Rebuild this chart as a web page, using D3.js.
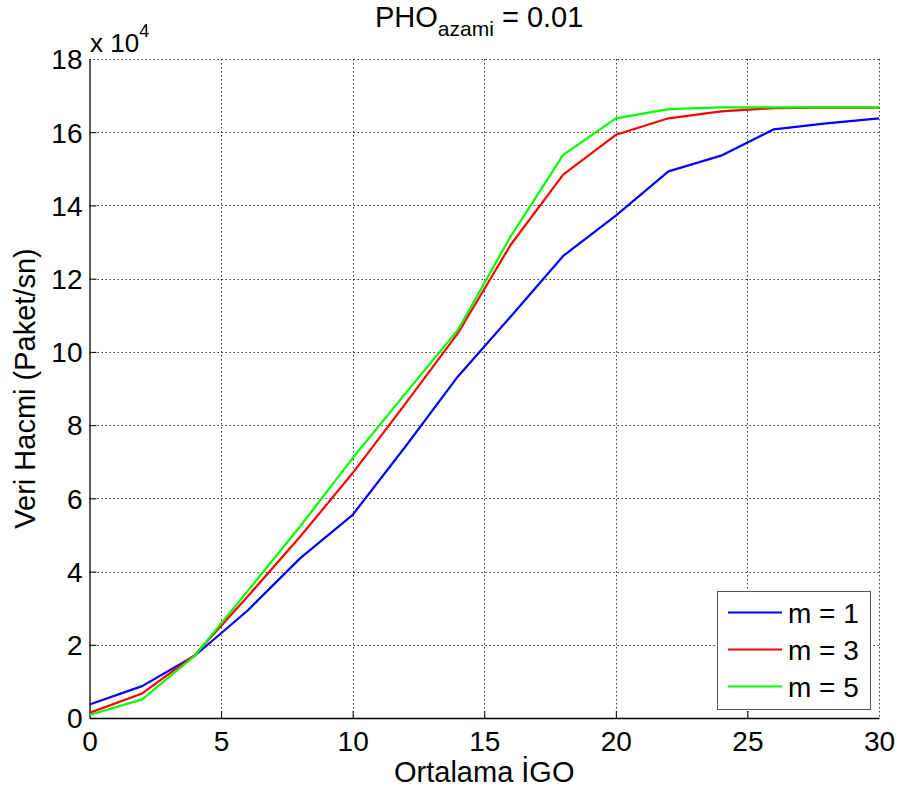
<!DOCTYPE html>
<html>
<head>
<meta charset="utf-8">
<script src="https://cdn.jsdelivr.net/npm/d3@7"></script>
<style>
  body { margin: 0; background: #fff; }
  svg text { font-family: "Liberation Sans", Arial, sans-serif; fill: #000; }
</style>
</head>
<body>
<div class="container"></div>
<script>
const WIDTH = 903;
const HEIGHT = 796;

// values are in units of 10^4 packets/sn
var igo = [0, 2, 4, 6, 8, 10, 12, 14, 16, 18, 20, 22, 24, 26, 28, 30];
var m1 = [0.37, 0.87, 1.70, 2.93, 4.36, 5.55, 7.41, 9.33, 10.96, 12.62, 13.72, 14.93, 15.36, 16.08, 16.24, 16.38];
var m3 = [0.14, 0.67, 1.72, 3.31, 4.95, 6.69, 8.58, 10.51, 12.92, 14.84, 15.93, 16.38, 16.57, 16.66, 16.67, 16.67];
var m5 = [0.08, 0.51, 1.70, 3.46, 5.23, 7.10, 8.86, 10.60, 13.15, 15.38, 16.38, 16.63, 16.68, 16.68, 16.68, 16.68];
var seriesNames = ["m = 1", "m = 3", "m = 5"];
var seriesColors = ["#0000ff", "#ff0000", "#00ff00"];
var xTicks = [0, 5, 10, 15, 20, 25, 30];
var yTicks = [0, 2, 4, 6, 8, 10, 12, 14, 16, 18];

var plotLeft = 89.5, plotRight = 879, plotTop = 59, plotBottom = 718;

var svg = d3.select(".container").append("svg")
    .attr("width", WIDTH)
    .attr("height", HEIGHT);

var x = d3.scaleLinear().domain([0, 30]).range([plotLeft, plotRight]);
var y = d3.scaleLinear().domain([0, 18]).range([plotBottom, plotTop]);

// grid
var grid = svg.append("g").attr("class", "grid");
grid.selectAll("line.vx")
    .data(xTicks.slice(1))
    .enter().append("line")
    .attr("x1", d => Math.round(x(d)) + 0.5)
    .attr("x2", d => Math.round(x(d)) + 0.5)
    .attr("y1", plotTop)
    .attr("y2", plotBottom);
grid.selectAll("line.hy")
    .data(yTicks.slice(1))
    .enter().append("line")
    .attr("x1", plotLeft)
    .attr("x2", plotRight)
    .attr("y1", d => Math.round(y(d)) + 0.5)
    .attr("y2", d => Math.round(y(d)) + 0.5);
grid.selectAll("line")
    .attr("stroke", "#333")
    .attr("stroke-width", 1)
    .attr("stroke-dasharray", "1.5,2.5");

// axes
var xAxis = svg.append("g")
    .attr("transform", "translate(0," + plotBottom + ")")
    .call(d3.axisBottom(x).tickValues(xTicks).tickSize(-7).tickPadding(14).tickSizeOuter(0));
var yAxis = svg.append("g")
    .attr("transform", "translate(" + plotLeft + ",0)")
    .call(d3.axisLeft(y).tickValues(yTicks).tickSize(-7).tickPadding(8).tickSizeOuter(0));

xAxis.select(".domain").attr("stroke", "#000").attr("stroke-width", 1.3);
yAxis.select(".domain").attr("stroke", "#000").attr("stroke-width", 1.3);
xAxis.selectAll(".tick line").attr("stroke", "#000");
yAxis.selectAll(".tick line").attr("stroke", "#000");
xAxis.selectAll(".tick").filter(d => d === 0 || d === 30).select("line").remove();
yAxis.selectAll(".tick").filter(d => d === 0 || d === 18).select("line").remove();
xAxis.selectAll("text")
    .attr("font-size", 28)
    .attr("dy", "0.71em")
    .attr("y", 13);
yAxis.selectAll("text")
    .attr("font-size", 28)
    .attr("x", -7)
    .attr("dy", "0.35em");

// lines
var line = d3.line()
    .x((d, i) => x(igo[i]))
    .y(d => y(d));

[m1, m3, m5].forEach(function(vals, k){
    svg.append("path")
        .datum(vals)
        .attr("fill", "none")
        .attr("stroke", seriesColors[k])
        .attr("stroke-width", 2.2)
        .attr("stroke-linejoin", "round")
        .attr("d", line);
});

// exponent
var expo = svg.append("text")
    .attr("x", 90)
    .attr("y", 52)
    .attr("font-size", 26);
expo.append("tspan").text("x 10");
expo.append("tspan").attr("dy", -15).attr("font-size", 18).text("4");

// title
var title = svg.append("text")
    .attr("x", 375)
    .attr("y", 27)
    .attr("font-size", 29);
title.append("tspan").text("PHO");
title.append("tspan").attr("dy", 9).attr("font-size", 21).text("azami");
title.append("tspan").attr("dy", -9).text(" = 0.01");

// axis labels
svg.append("text")
    .attr("x", (plotLeft + plotRight) / 2)
    .attr("y", 782)
    .attr("text-anchor", "middle")
    .attr("font-size", 29)
    .text("Ortalama İGO");

svg.append("text")
    .attr("transform", "translate(35," + (plotTop + plotBottom) / 2 + ") rotate(-90)")
    .attr("text-anchor", "middle")
    .attr("font-size", 29)
    .text("Veri Hacmi (Paket/sn)");

// legend
var legend = svg.append("g").attr("class", "legend");
legend.append("rect")
    .attr("x", 717.5)
    .attr("y", 591.5)
    .attr("width", 153)
    .attr("height", 118)
    .attr("fill", "#fff")
    .attr("stroke", "#555")
    .attr("stroke-width", 1);
var rows = legend.selectAll("g.row")
    .data(seriesNames)
    .enter().append("g")
    .attr("transform", (d, i) => "translate(0," + (612.5 + i * 37) + ")");
rows.append("line")
    .attr("x1", 728)
    .attr("x2", 782)
    .attr("stroke", (d, i) => seriesColors[i])
    .attr("stroke-width", 2.2);
rows.append("text")
    .attr("x", 788)
    .attr("dy", "0.36em")
    .attr("font-size", 28)
    .text(d => d);
</script>
</body>
</html>
